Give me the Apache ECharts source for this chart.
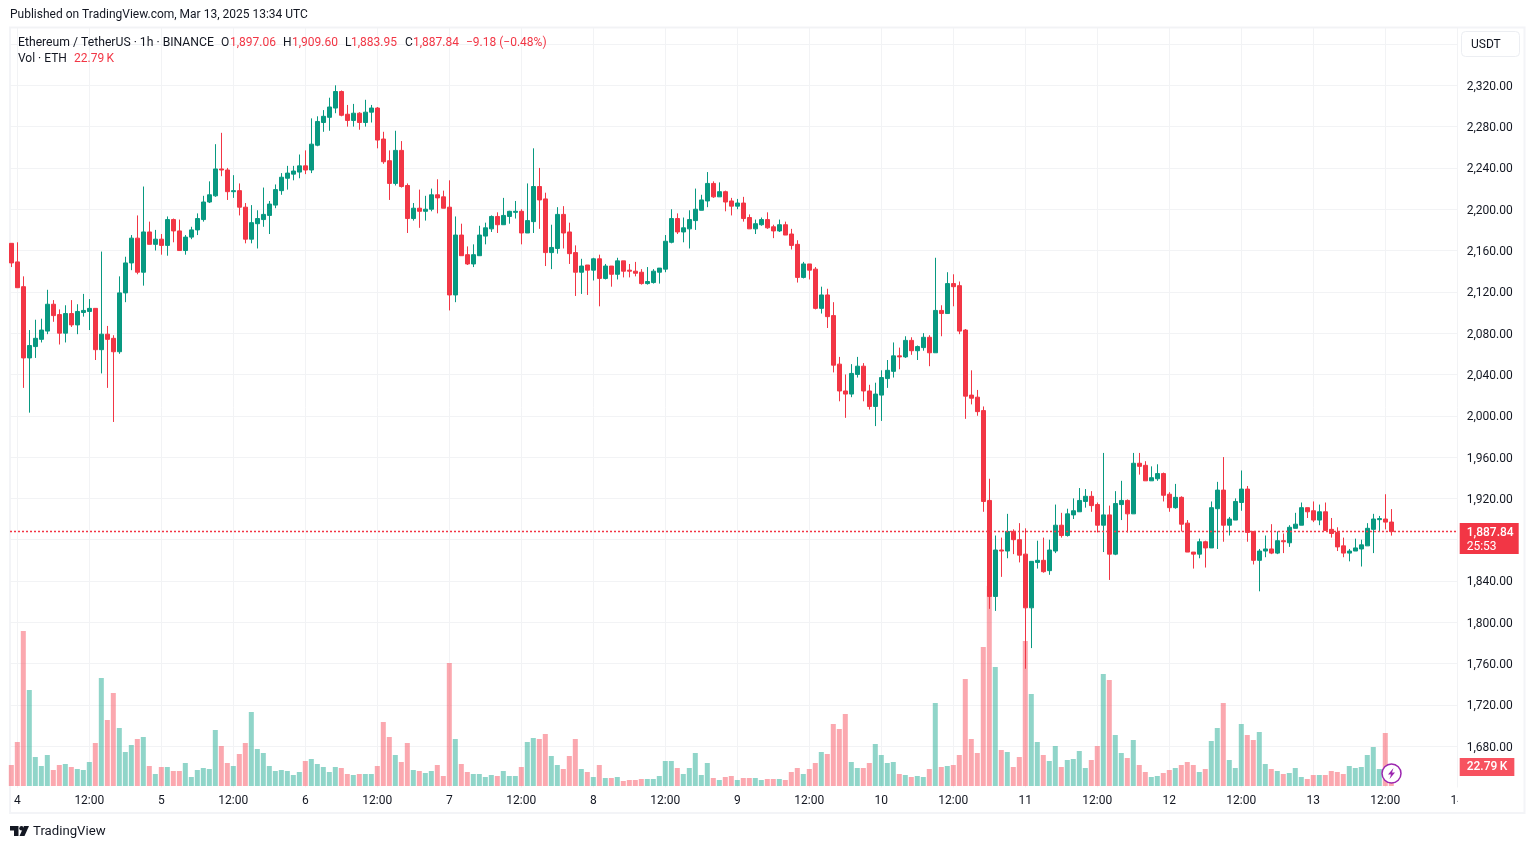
<!DOCTYPE html>
<html>
<head>
<meta charset="utf-8">
<title>Ethereum / TetherUS 1h</title>
<script src="https://cdn.jsdelivr.net/npm/echarts@6/dist/echarts.min.js"></script>
<style>
html, body { margin: 0; padding: 0; background: #fff; }
#chart { width: 1534px; height: 849px; }
</style>
</head>
<body>
<div id="chart"></div>
<script>
// hourly candles, Mar 3 23:00 to Mar 13 13:00
var opens = [
2167,2149,2125,2056,2067,2074,2082,2108,2098,2080,
2099,2088,2100,2101,2104,2064,2079,2075,2062,2119,
2148,2172,2139,2178,2166,2171,2165,2190,2179,2160,
2173,2180,2190,2207,2213,2239,2238,2217,2218,2202,
2171,2186,2190,2194,2204,2218,2230,2234,2236,2242,
2238,2262,2284,2289,2298,2314,2292,2286,2293,2284,
2294,2298,2268,2247,2225,2257,2223,2191,2201,2198,
2200,2214,2212,2202,2117,2175,2156,2147,2155,2174,
2181,2193,2185,2193,2197,2198,2177,2188,2222,2210,
2158,2162,2195,2178,2158,2139,2146,2141,2152,2133,
2145,2137,2150,2141,2140,2139,2128,2129,2139,2142,
2168,2191,2178,2181,2189,2199,2208,2225,2212,2217,
2208,2203,2206,2192,2181,2185,2190,2183,2179,2185,
2176,2166,2134,2147,2142,2104,2117,2097,2050,2024,
2021,2040,2048,2024,2009,2020,2036,2043,2058,2057,
2073,2063,2066,2076,2061,2102,2099,2128,2126,2083,
2020,2018,2005,1918,1825,1870,1869,1888,1880,1866,
1814,1858,1860,1850,1869,1894,1884,1904,1907,1917,
1922,1914,1894,1904,1866,1914,1918,1905,1954,1952,
1937,1939,1944,1924,1911,1921,1896,1868,1866,1878,
1872,1910,1928,1894,1899,1916,1929,1888,1860,1869,
1871,1867,1879,1877,1891,1894,1911,1908,1899,1907,
1890,1887,1874,1867,1869,1871,1874,1890,1899.4,1900,1897.06
];
var closes = [
2148,2124,2056,2068,2075,2083,2108,2097,2080,2099,
2088,2101,2102,2104,2064,2079,2074,2062,2119,2148,
2172,2139,2178,2166,2171,2165,2190,2179,2160,2173,
2180,2191,2207,2214,2239,2238,2217,2218,2202,2171,
2187,2191,2195,2205,2219,2231,2235,2237,2242,2238,
2263,2285,2290,2299,2314,2291,2286,2293,2284,2294,
2298,2267,2246,2225,2257,2222,2191,2201,2198,2200,
2214,2211,2201,2117,2175,2155,2147,2156,2175,2182,
2193,2185,2194,2198,2198,2177,2189,2222,2209,2158,
2163,2195,2177,2157,2139,2145,2141,2152,2133,2145,
2137,2150,2140,2140,2138,2128,2130,2140,2143,2169,
2191,2178,2182,2190,2200,2209,2225,2212,2217,2207,
2203,2206,2191,2181,2186,2190,2182,2179,2185,2175,
2165,2134,2147,2141,2104,2117,2096,2049,2024,2021,
2041,2048,2024,2009,2021,2037,2044,2058,2057,2073,
2063,2067,2076,2061,2102,2099,2128,2125,2082,2019,
2017,2004,1917,1825,1870,1869,1888,1880,1865,1814,
1859,1860,1849,1870,1894,1884,1905,1908,1918,1922,
1913,1894,1904,1866,1915,1918,1905,1954,1951,1937,
1940,1944,1923,1911,1921,1895,1868,1866,1878,1872,
1911,1928,1894,1900,1917,1929,1887,1860,1869,1871,
1867,1879,1878,1892,1895,1911,1907,1899,1907,1889,
1886,1873,1867,1869,1872,1875,1891,1900,1900.4,1897,1887.84
];
var lows = [
2144,2124,2027,2003,2056,2071,2079,2091,2069,2071,
2086,2079,2096,2083,2054,2041,2027,1994,2060,2110,
2141,2137,2126,2166,2160,2156,2155,2168,2160,2156,
2171,2175,2188,2206,2212,2232,2209,2211,2194,2167,
2167,2162,2183,2176,2201,2214,2219,2228,2230,2234,
2235,2261,2275,2276,2293,2290,2280,2280,2277,2280,
2284,2259,2244,2209,2223,2221,2177,2189,2182,2189,
2198,2196,2201,2102,2110,2155,2146,2144,2155,2166,
2178,2177,2185,2186,2191,2166,2177,2177,2181,2145,
2142,2157,2162,2147,2116,2118,2117,2131,2106,2132,
2125,2132,2134,2134,2135,2127,2127,2128,2128,2139,
2167,2176,2168,2162,2180,2199,2202,2211,2212,2198,
2194,2200,2188,2181,2176,2184,2181,2172,2178,2175,
2161,2129,2133,2132,2103,2099,2085,2042,2014,1998,
2018,2037,2014,2006,1990,1995,2027,2037,2045,2056,
2059,2054,2063,2048,2061,2077,2099,2106,2079,1997,
2011,2000,1907,1813,1811,1844,1862,1866,1858,1755,
1775,1852,1848,1846,1867,1882,1883,1900,1907,1911,
1907,1887,1868,1841,1865,1899,1887,1905,1943,1937,
1937,1937,1917,1907,1910,1888,1868,1852,1862,1853,
1872,1871,1878,1884,1899,1908,1878,1856,1830,1863,
1866,1866,1867,1873,1891,1894,1901,1897,1894,1889,
1882,1869,1863,1859,1869,1854,1874,1867,1888,1890,1883.95
];
var highs = [
2167,2168,2135,2083,2093,2094,2122,2112,2103,2107,
2112,2108,2118,2113,2104,2159,2087,2078,2135,2154,
2175,2194,2222,2188,2180,2176,2193,2191,2190,2175,
2183,2196,2213,2227,2263,2274,2240,2233,2225,2206,
2204,2199,2221,2208,2224,2235,2242,2242,2253,2257,
2288,2290,2296,2308,2320,2315,2301,2302,2294,2306,
2301,2299,2275,2257,2276,2266,2225,2206,2219,2213,
2220,2229,2218,2228,2193,2186,2164,2166,2184,2187,
2194,2197,2211,2198.5,2208,2200,2225,2259,2240,2216,
2185,2202,2203,2187,2165,2152,2146,2153,2156,2147,
2145,2153,2150,2147,2149,2142,2144,2142,2143,2175,
2200,2196,2192,2199,2220,2214,2236,2227,2226,2218,
2211,2210,2212,2195,2190,2192,2197,2185,2190,2188,
2181,2170,2149,2147,2144,2125,2123,2110,2057,2040,
2050,2057,2051,2030,2032,2044,2054,2071,2066,2077,
2076,2068,2080,2078,2153,2107,2139,2137,2130,2084,
2044,2025,2009,1939,1884,1882,1905,1890,1896,1891,
1859,1879,1882,1880,1914,1906,1910,1920,1930,1929,
1927,1916,1964,1913,1927,1937,1919,1964,1964,1956,
1951,1953,1945,1926,1934,1922,1899,1868,1881,1879,
1917,1936,1960,1902,1920,1947,1932,1888,1871,1884,
1895,1888,1886,1894,1906,1916,1911,1917,1914,1916,
1901,1892,1882,1871,1881,1880,1896,1905,1903,1924,1909.6
];
// volume in thousands of ETH
var volumes = [
25.2,52.8,186,115.2,34.8,24,37.2,19.2,25.2,26.4,
22.8,20.4,19.2,28.8,51.6,129.6,79.2,111.6,69.6,40.8,
49.2,56.4,58.8,24,14.4,22.8,22.8,18,18,27.6,
10.8,19.2,21.6,20.4,67.2,48,27.6,24,38.4,51.6,
88.8,44.4,39.6,24,18,19.2,18,13.2,16.8,30,
32.4,26.4,22.8,16.8,22.8,21.6,14.4,13.2,14.4,14.4,
14.4,24,76.8,58.8,37.2,28.8,51.6,19.2,18,15.6,
18,25.2,12,147.6,56.4,26.4,16.8,14.4,14.4,10.8,
13.2,12,18,12,12,22.8,52.8,57.6,56.4,62.4,
36,25.2,20.4,36,56.4,20.4,16.8,10.8,25.2,9.6,
9.6,10.8,6,7.2,7.2,8.4,8.4,8.4,12,30,
30,21.6,14.4,21.6,39.6,13.2,27.6,9.6,7.2,10.8,
12,7.2,9.6,9.6,9.6,7.2,8.4,8.4,8.4,7.2,
16.8,21.6,14.4,20.4,27.6,40.8,38.4,74.4,68.4,86.4,
28.8,21.6,21.6,27.6,50.4,37.2,27.6,28.8,14.4,13.2,
10.8,12,10.8,20.4,99.6,22.8,24,25.2,37.2,128.4,
56.4,39.6,166.8,240,142.8,43.2,40.8,22.8,34.8,174,
110.4,52.8,37.2,30,48,22.8,31.2,32.4,42,21.6,
31.2,48,134.4,127.2,61.2,39.6,33.6,55.2,25.2,16.8,
10.8,12,15.6,19.2,21.6,25.2,28.8,25.2,16.8,20.4,
54,69.6,99.6,31.2,21.6,74.4,61.2,55.2,64.8,26.4,
20.4,18,14.4,15.6,21.6,10.8,8.4,13.2,13.2,13.2,
18,16.8,14.4,24,21.6,22.8,37.2,46.8,20.4,63.6,22.79
];
// hours since Mar 4 00:00
var xTickHours = [0,12,24,36,48,60,72,84,96,108,120,132,144,156,168,180,192,204,216,228,240];
var xTickLabels = ['4','12:00','5','12:00','6','12:00','7','12:00','8','12:00','9','12:00','10','12:00','11','12:00','12','12:00','13','12:00','14'];

var UP = '#089981', DOWN = '#F23645';
var GRID_LINE = '#f2f3f5';
var FONT = 'Roboto, sans-serif';
var TXT = '#131722';
var X_MIN = -1.22, X_MAX = 240.07;
var lastIdx = closes.length - 1;
var volText = volumes[lastIdx].toFixed(2) + '\u2009K';

var candleData = [], volumeData = [];
for (var i = 0; i < opens.length; i++) {
    candleData.push([i - 1, opens[i], closes[i], lows[i], highs[i]]);
    volumeData.push({
        value: [i - 1, volumes[i]],
        itemStyle: { color: closes[i] >= opens[i] ? 'rgba(34,171,148,0.5)' : 'rgba(247,82,95,0.5)' }
    });
}

function price(v) {
    return v.toLocaleString('en-US', { minimumFractionDigits: 2, maximumFractionDigits: 2 });
}
function headText(x, y, text, color, extra) {
    return {
        type: 'text', x: x, y: y, z: 50,
        style: Object.assign({ text: text, fill: color || TXT, font: '12px ' + FONT, textVerticalAlign: 'middle' }, extra || {})
    };
}

var chart = echarts.init(document.getElementById('chart'), null, { renderer: 'canvas' });
var xBase = { type: 'value', min: X_MIN, max: X_MAX };

chart.setOption({
    animation: false,
    backgroundColor: '#fff',
    grid: [
        { left: 10, top: 27.5, width: 1447.7, height: 760 },
        { left: 10, top: 27.5, width: 1447.7, height: 758.5 }
    ],
    xAxis: [
        Object.assign({}, xBase, {
            gridIndex: 0,
            axisLine: { show: false },
            axisTick: { show: false, customValues: xTickHours },
            axisLabel: { show: false },
            splitLine: { show: true, lineStyle: { color: GRID_LINE, width: 1 } }
        }),
        Object.assign({}, xBase, {
            gridIndex: 1,
            axisLine: { show: false },
            axisTick: { show: false, customValues: xTickHours },
            splitLine: { show: false },
            axisLabel: {
                customValues: xTickHours,
                color: TXT, fontFamily: FONT, fontSize: 12, margin: 9, hideOverlap: false,
                formatter: function (v) { return xTickLabels[xTickHours.indexOf(v)]; }
            }
        })
    ],
    yAxis: [
        {
            type: 'value', gridIndex: 0, position: 'right', min: 1640, max: 2376, interval: 40,
            axisLine: { show: true, lineStyle: { color: GRID_LINE } },
            axisTick: { show: false },
            splitLine: { show: true, showMinLine: false, lineStyle: { color: GRID_LINE, width: 1 } },
            axisLabel: {
                margin: 9,
                formatter: function (v) { return (v <= 1640 || v >= 2360) ? '' : '{a|' + price(v) + '}'; },
                rich: { a: { color: TXT, fontFamily: FONT, fontSize: 12, padding: [3, 0, 0, 0] } }
            }
        },
        {
            type: 'value', gridIndex: 1, position: 'right', min: 0, max: 910.2,
            axisLine: { show: false }, axisTick: { show: false },
            axisLabel: { show: false }, splitLine: { show: false }
        }
    ],
    series: [
        {
            name: 'Vol', type: 'bar', xAxisIndex: 1, yAxisIndex: 1, barWidth: 5, z: 1,
            data: volumeData,
            markLine: {
                silent: true, symbol: 'none', animation: false,
                lineStyle: { color: 'transparent', width: 1 },
                data: [{ yAxis: volumes[lastIdx] }],
                label: {
                    show: true, position: 'end', distance: 2,
                    formatter: volText,
                    color: '#fff', fontFamily: FONT, fontSize: 12, fontWeight: 500,
                    backgroundColor: '#F7525F', padding: [4, 7, 2, 7]
                }
            }
        },
        {
            name: 'ETHUSDT', type: 'candlestick', xAxisIndex: 0, yAxisIndex: 0, z: 3,
            barWidth: 4,
            encode: { x: 0, y: [1, 2, 3, 4] },
            itemStyle: { color: UP, color0: DOWN, borderColor: UP, borderColor0: DOWN, borderWidth: 1 },
            data: candleData
        },
        {
            // last price line with its scale label
            name: 'Last', type: 'line', xAxisIndex: 0, yAxisIndex: 0, z: 4,
            showSymbol: false, silent: true,
            data: [[X_MIN, closes[lastIdx]], [X_MAX, closes[lastIdx]]],
            lineStyle: { color: '#F23645', type: [2, 2], width: 1.5, opacity: 1 },
            endLabel: {
                show: true, distance: 2, offset: [0, 7],
                formatter: '{p|' + price(closes[lastIdx]) + '}\n{t|25:53}',
                backgroundColor: DOWN, padding: [3, 5, 0, 7], align: 'left',
                rich: {
                    p: { color: '#fff', fontFamily: FONT, fontSize: 12, fontWeight: 500, lineHeight: 14, width: 47 },
                    t: { color: '#fff', fontFamily: FONT, fontSize: 12, lineHeight: 14, width: 47 }
                }
            }
        }
    ],
    graphic: [
        // frame of the chart
        { type: 'rect', z: 0, shape: { x: 10, y: 27.5, width: 1514.5, height: 785.5 }, style: { fill: 'none', stroke: '#f3f4f7', lineWidth: 2 } },
        // clips the half label at the right end of the time scale
        { type: 'rect', z: 40, shape: { x: 1458, y: 790, width: 22, height: 20 }, style: { fill: '#fff' } },

        headText(10, 15, 'Published on TradingView.com, Mar 13, 2025 13:34 UTC'),
        headText(18, 43, 'Ethereum / TetherUS · 1h · BINANCE', TXT, { font: '12.2px ' + FONT }),
        headText(221, 43, 'O'), headText(230, 43, price(opens[lastIdx]), DOWN),
        headText(283, 43, 'H'), headText(292, 43, price(highs[lastIdx]), DOWN),
        headText(345, 43, 'L'), headText(351, 43, price(lows[lastIdx]), DOWN),
        headText(405, 43, 'C'), headText(413, 43, price(closes[lastIdx]), DOWN),
        headText(466, 43, '−9.18 (−0.48%)', DOWN),
        headText(18, 59, 'Vol · ETH'),
        headText(74, 59, volText, DOWN),

        // currency box
        { type: 'rect', z: 50, shape: { x: 1461.5, y: 31.5, width: 58, height: 25, r: 4 }, style: { fill: '#fff', stroke: '#eceef2', lineWidth: 1 } },
        headText(1471, 45, 'USDT'),

        // lightning badge on the newest bar
        { type: 'circle', z: 50, shape: { cx: 1391.5, cy: 773.5, r: 9.5 }, style: { fill: '#fff', stroke: '#9C27B0', lineWidth: 1.5 } },
        { type: 'polygon', z: 51, shape: { points: [[1393.5, 768], [1388, 774.5], [1391, 774.5], [1389.5, 779], [1395, 772.5], [1392, 772.5]] }, style: { fill: '#9C27B0' } },

        // TradingView mark and name
        { type: 'polygon', z: 50, shape: { points: [[10, 826], [18.5, 826], [18.5, 836], [14, 836], [14, 830.5], [10, 830.5]] }, style: { fill: TXT } },
        { type: 'circle', z: 50, shape: { cx: 21.5, cy: 828.2, r: 2.2 }, style: { fill: TXT } },
        { type: 'polygon', z: 50, shape: { points: [[24, 826], [29, 826], [24.5, 836], [19.5, 836]] }, style: { fill: TXT } },
        headText(33, 832, 'TradingView', TXT, { font: '13.2px ' + FONT })
    ]
});
</script>
</body>
</html>
